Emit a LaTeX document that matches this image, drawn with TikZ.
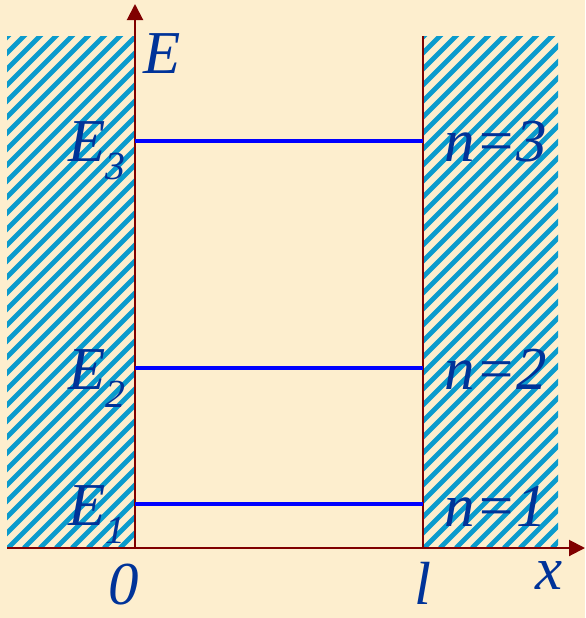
\documentclass[tikz,border=0pt]{standalone}
\usepackage{fontspec}
\setmainfont{Liberation Serif}
\usepackage{tikz}
\usetikzlibrary{arrows.meta,positioning}
\definecolor{paper}{RGB}{253,238,206}
\definecolor{wallred}{RGB}{128,0,0}
\definecolor{hatchblue}{RGB}{10,155,205}
\definecolor{labelblue}{RGB}{0,51,153}
\newcommand{\bigit}{\fontsize{52}{60}\selectfont\itshape}
\newcommand{\subit}[1]{\raisebox{-0.3em}{\fontsize{34}{40}\selectfont\itshape #1}}

\begin{document}
\begin{tikzpicture}[
  x=0.3mm, y=-0.3mm,
  axis/.style={wallred, line width=0.6mm, -{Triangle[length=4.8mm, width=4.8mm]}},
  wall/.style={wallred, line width=0.45mm},
  level/.style={blue, line width=1.2mm},
  hatch/.style={hatchblue, line width=1.4mm},
  lab/.style={text=labelblue, inner sep=0pt, anchor=base, font=\bigit}
]
% page and background
\useasboundingbox (0,0) rectangle (585,618);
\fill[paper] (0,0) rectangle (585,618);

% hatched walls
\begin{scope}
  \clip (7,36) rectangle (135,548) (423,36) rectangle (558,548);
  \foreach \s in {-600,-584,...,600}
    \draw[hatch] (\s,548) -- ++(600,-600);
\end{scope}

% points
\coordinate (O) at (135,548);
\coordinate (xl) at (7,548);
\coordinate (xr) at (585,548);
\coordinate (yt) at (135,4);
\coordinate (L) at (423,548);
\coordinate (Lt) at (423,36);
\coordinate (a1) at (135,504);
\coordinate (b1) at (423,504);
\coordinate (a2) at (135,368);
\coordinate (b2) at (423,368);
\coordinate (a3) at (135,141);
\coordinate (b3) at (423,141);

% axes and walls
\draw[wall] (L) -- (Lt);
\draw[axis] (xl) -- (xr);
\draw[axis] (O) -- (yt);

% energy levels
\draw[level] (a1) -- (b1);
\draw[level] (a2) -- (b2);
\draw[level] (a3) -- (b3);

% labels
\node[lab, anchor=base west] (lE) at (143,73) {E};
\node[lab, anchor=base east] (lE3) at (126,161) {E\subit{3}};
\node[lab, anchor=base east] (lE2) at (126,389) {E\subit{2}};
\node[lab, anchor=base east] (lE1) at (126,525) {E\subit{1}};
\node[lab] (ln3) at (496,161) {n=3};
\node[lab] (ln2) at (496,389) {n=2};
\node[lab] (ln1) at (496,526) {n=1};
\node[lab] (l0) at (124,604) {0};
\node[lab] (ll) at (423,604) {l};
\node[lab] (lx) at (549,589) {x};
\end{tikzpicture}
\end{document}
